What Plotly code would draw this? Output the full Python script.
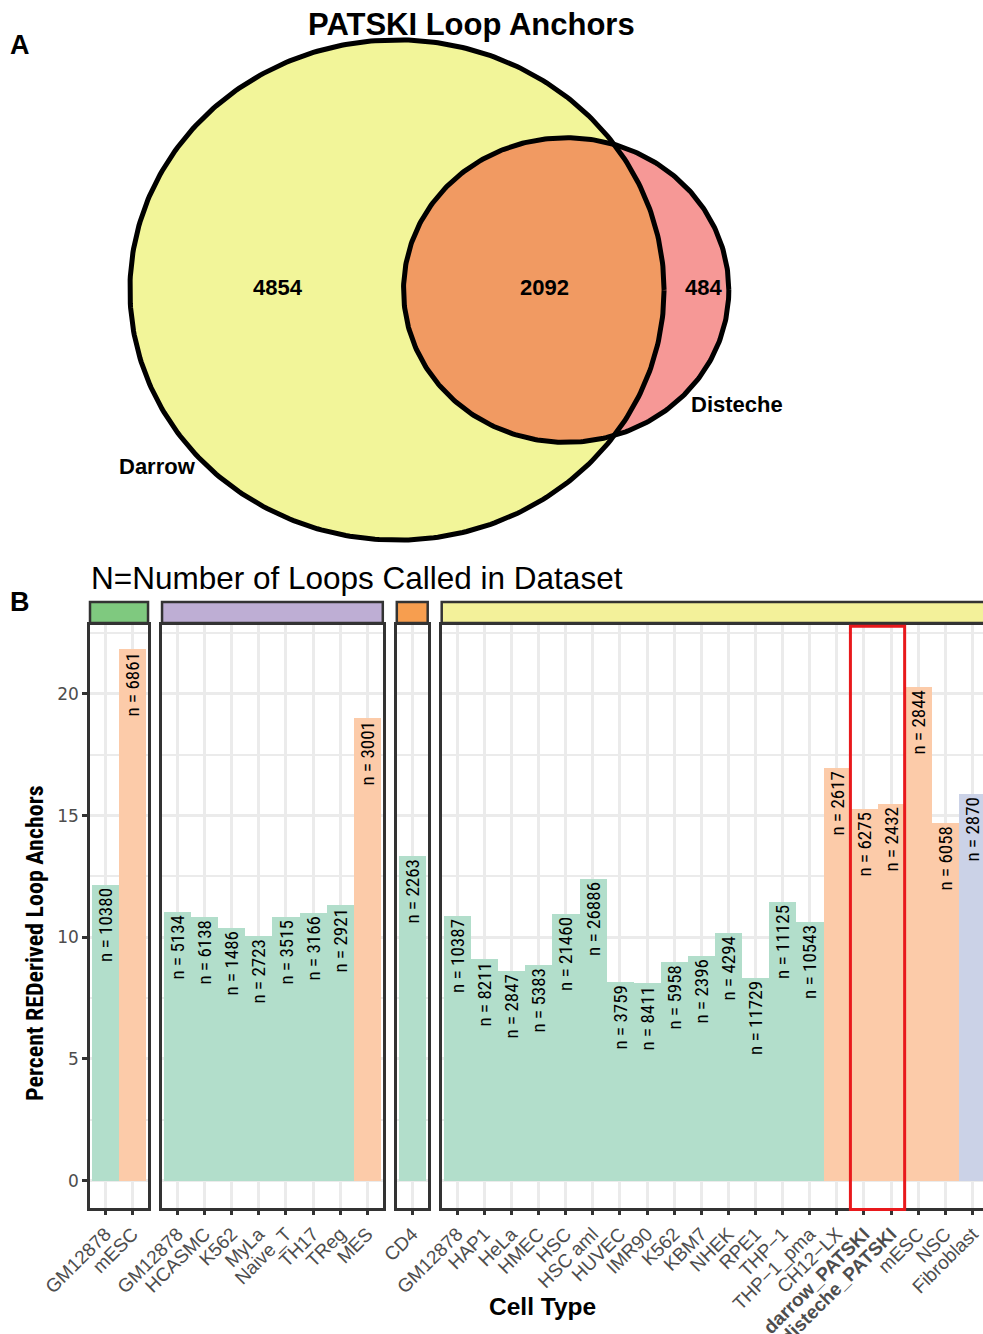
import math
import numpy as np
import plotly.graph_objects as go

# ---------------- Panel A: PATSKI loop anchor overlap ----------------
venn_names = ["Darrow", "Disteche"]
only_darrow = 4854
shared = 2092
only_disteche = 484

# ---------------- Panel B: percent RE-derived loop anchors ----------------
facet_cells = [
    ["GM12878", "mESC"],
    ["GM12878", "HCASMC", "K562", "MyLa", "Naive_T", "TH17", "TReg", "MES"],
    ["CD4"],
    ["GM12878", "HAP1", "HeLa", "HMEC", "HSC", "HSC aml", "HUVEC", "IMR90",
     "K562", "KBM7", "NHEK", "RPE1", "THP\u22121", "THP\u22121_pma", "CH12\u2212LX",
     "darrow_PATSKI", "disteche_PATSKI", "mESC", "NSC", "Fibroblast"],
]
facet_pct = [
    [12.15, 21.83],
    [11.05, 10.82, 10.37, 10.07, 10.82, 11.01, 11.31, 19.01],
    [13.34],
    [10.87, 9.12, 8.62, 8.85, 10.97, 12.38, 8.18, 8.11, 8.99, 9.25,
     10.16, 8.34, 11.46, 10.63, 16.94, 15.27, 15.48, 20.30, 14.68, 15.89],
]
facet_n = [
    [10380, 6861],
    [5134, 6138, 1486, 2723, 3515, 3166, 2921, 3001],
    [2263],
    [10387, 8211, 2847, 5383, 21460, 26886, 3759, 8411, 5958, 2396,
     4294, 11729, 11125, 10543, 2617, 6275, 2432, 2844, 6058, 2870],
]
facet_species = [
    ["human", "mouse"],
    ["human"] * 7 + ["mouse"],
    ["human"],
    ["human"] * 14 + ["mouse"] * 5 + ["other"],
]
highlight_cells = ["darrow_PATSKI", "disteche_PATSKI"]

species_color = {"human": "#B2DECB", "mouse": "#FCCBA9", "other": "#CBD2E7"}
strip_color = ["#7FC97F", "#BEAED4", "#F79E4F", "#F3F19A"]

W, H = 983, 1334
DARK = "#333333"
GRID = "#EBEBEB"
NARROW = "Liberation Sans Narrow, Arial Narrow, Roboto Condensed, Liberation Sans, sans-serif"
SANS = "Liberation Sans, Arial, Helvetica, sans-serif"
WIDE = "DejaVu Sans, Verdana, sans-serif"


def fx(p):
    return p / W


def fy(p):
    return 1 - p / H


fig = go.Figure()

# ---------- Venn diagram (area proportional circles) ----------
R = math.sqrt((only_darrow + shared) / math.pi)
r = math.sqrt((shared + only_disteche) / math.pi)


def lens_area(d):
    a1 = math.acos((d * d + R * R - r * r) / (2 * d * R))
    a2 = math.acos((d * d + r * r - R * R) / (2 * d * r))
    k = (-d + r + R) * (d + r - R) * (d - r + R) * (d + r + R)
    return R * R * a1 + r * r * a2 - 0.5 * math.sqrt(k)


lo, hi = R - r + 1e-6, R + r - 1e-6
for _ in range(80):
    mid = 0.5 * (lo + hi)
    if lens_area(mid) > shared:
        lo = mid
    else:
        hi = mid
d = 0.5 * (lo + hi)

t = np.linspace(0, 2 * np.pi, 400)
big_x, big_y = R * np.cos(t), R * np.sin(t)
small_x, small_y = d + r * np.cos(t), r * np.sin(t)

a = (d * d + R * R - r * r) / (2 * d)
h = math.sqrt(R * R - a * a)
th1 = math.atan2(h, a)
th2 = math.atan2(h, a - d)
arc_big = np.linspace(-th1, th1, 200)
arc_small = np.linspace(th2, 2 * np.pi - th2, 200)
lens_x = np.concatenate([R * np.cos(arc_big), d + r * np.cos(arc_small)])
lens_y = np.concatenate([R * np.sin(arc_big), r * np.sin(arc_small)])

for xs, ys, col in [(big_x, big_y, "#F2F599"), (small_x, small_y, "#F69896"),
                    (lens_x, lens_y, "#F19A62")]:
    fig.add_trace(go.Scatter(x=xs, y=ys, mode="lines", fill="toself", fillcolor=col,
                             line=dict(width=0), hoverinfo="skip", showlegend=False,
                             xaxis="x5", yaxis="y5"))
for xs, ys in [(big_x, big_y), (small_x, small_y)]:
    fig.add_trace(go.Scatter(x=xs, y=ys, mode="lines", line=dict(color="black", width=5),
                             hoverinfo="skip", showlegend=False, xaxis="x5", yaxis="y5"))

# pixel scale of the venn axes
sx, sy = 5.68, 5.32
cx, cy = 397, 290
venn_top, venn_bot = 0, 560


def vx(p):
    return (p - cx) / sx


def vy(p):
    return (cy - p) / sy


venn_font = dict(family=SANS, size=22, color="black")
for txt, px, py in [(f"<b>{only_darrow}</b>", 278, 287), (f"<b>{shared}</b>", 544, 287),
                    (f"<b>{only_disteche}</b>", 703, 287),
                    (f"<b>{venn_names[0]}</b>", 157, 466), (f"<b>{venn_names[1]}</b>", 737, 404)]:
    fig.add_annotation(x=vx(px), y=vy(py), xref="x5", yref="y5", text=txt, showarrow=False,
                       font=venn_font, xanchor="center", yanchor="middle")

# ---------- Faceted bar chart ----------
unit = 27.12
pad = 0.07
gap = 14
plot_top, plot_bot = 625, 1207.7
y_lo, y_hi = -1.11, 22.83
strip_top, strip_bot = 602, 623

left = 90.0
layout_axes = {}
for i, (cells, pct, nvals, spc) in enumerate(zip(facet_cells, facet_pct, facet_n, facet_species)):
    k = i + 1
    xa = "x" if k == 1 else f"x{k}"
    ya = "y" if k == 1 else f"y{k}"
    ncat = len(cells)
    width_px = (ncat + 2 * pad) * unit
    right = left + width_px
    x0 = -0.5 - pad
    if right > W:
        x1 = x0 + (W - left) / unit
        dom_r = 1.0
    else:
        x1 = ncat - 0.5 + pad
        dom_r = fx(right)
    idx = list(range(ncat))
    fig.add_trace(go.Bar(
        x=idx, y=pct, width=1.0,
        marker=dict(color=[species_color[s] for s in spc], line=dict(width=0)),
        text=[f"n = {v}" for v in nvals], textposition="inside", insidetextanchor="end",
        textangle=-90, constraintext="none",
        textfont=dict(family=NARROW, size=19, color="black"),
        hoverinfo="skip", showlegend=False, xaxis=xa, yaxis=ya))

    ticktext = [f"<b>{c}</b>" if (c in highlight_cells) else c for c in cells]
    layout_axes[("xaxis" if k == 1 else f"xaxis{k}")] = dict(
        domain=[fx(left), dom_r], range=[x0, x1], anchor=ya,
        tickmode="array", tickvals=idx, ticktext=ticktext, tickangle=-45,
        tickfont=dict(family=SANS, size=19, color="#4D4D4D"),
        ticks="outside", ticklen=5, tickwidth=2.5, tickcolor=DARK,
        showgrid=True, gridcolor=GRID, gridwidth=2.6, zeroline=False,
        showline=True, linecolor=DARK, linewidth=2.5, mirror=True, automargin=False)
    layout_axes[("yaxis" if k == 1 else f"yaxis{k}")] = dict(
        domain=[fy(plot_bot), fy(plot_top)], range=[y_lo, y_hi], anchor=xa,
        tickmode="linear", tick0=0, dtick=5,
        showticklabels=(k == 1),
        tickfont=dict(family=WIDE, size=17, color="#4D4D4D"),
        ticks="outside" if k == 1 else "", ticklen=5, tickwidth=2.5, tickcolor=DARK,
        showgrid=True, gridcolor=GRID, gridwidth=2.5, zeroline=False,
        minor=dict(dtick=2.5, showgrid=True, gridcolor=GRID, gridwidth=1.5),
        showline=True, linecolor=DARK, linewidth=2.5, mirror=(right <= W), automargin=False)

    # facet strip
    fig.add_shape(type="rect", xref="paper", yref="paper",
                  x0=fx(left), x1=fx(min(right, W + 10)), y0=fy(strip_bot), y1=fy(strip_top),
                  fillcolor=strip_color[i], line=dict(color=DARK, width=2.5), layer="above")

    if i == 3:
        hi_idx = [cells.index(c) for c in highlight_cells]
        fig.add_shape(type="rect", xref=xa, yref=f"{ya} domain",
                      x0=min(hi_idx) - 0.5, x1=max(hi_idx) + 0.5, y0=-0.003, y1=0.998,
                      line=dict(color="#E8191C", width=3), fillcolor="rgba(0,0,0,0)",
                      layer="above")
    left = right + gap

fig.update_layout(**layout_axes)
fig.update_layout(
    xaxis5=dict(domain=[0, 1], range=[vx(0), vx(W)], visible=False, anchor="y5"),
    yaxis5=dict(domain=[fy(venn_bot), fy(venn_top)], range=[vy(venn_bot), vy(venn_top)],
                visible=False, anchor="x5"),
)

# titles and panel letters
fig.add_annotation(x=fx(471), y=fy(24), xref="paper", yref="paper",
                   text="<b>PATSKI Loop Anchors</b>", showarrow=False,
                   font=dict(family=SANS, size=31, color="black"), xanchor="center", yanchor="middle")
fig.add_annotation(x=fx(20), y=fy(45), xref="paper", yref="paper", text="<b>A</b>",
                   showarrow=False, font=dict(family=SANS, size=27, color="black"),
                   xanchor="center", yanchor="middle")
fig.add_annotation(x=fx(20), y=fy(602), xref="paper", yref="paper", text="<b>B</b>",
                   showarrow=False, font=dict(family=SANS, size=27, color="black"),
                   xanchor="center", yanchor="middle")
fig.add_annotation(x=fx(89), y=fy(578), xref="paper", yref="paper",
                   text="N=Number of Loops Called in Dataset", showarrow=False,
                   font=dict(family=SANS, size=31.5, color="black"), xanchor="left", yanchor="middle")
fig.add_annotation(x=fx(542), y=fy(1306), xref="paper", yref="paper", text="<b>Cell Type</b>",
                   showarrow=False, font=dict(family=SANS, size=24.5, color="black"),
                   xanchor="center", yanchor="middle")
fig.add_annotation(x=fx(35), y=fy(943), xref="paper", yref="paper",
                   text="<b>Percent REDerived Loop Anchors</b>", textangle=-90, showarrow=False,
                   font=dict(family=NARROW, size=24, color="black"), xanchor="center", yanchor="middle")

fig.update_layout(
    width=W, height=H, margin=dict(l=0, r=0, t=0, b=0),
    paper_bgcolor="white", plot_bgcolor="white", bargap=0, showlegend=False,
)

fig.write_html("out.html")
